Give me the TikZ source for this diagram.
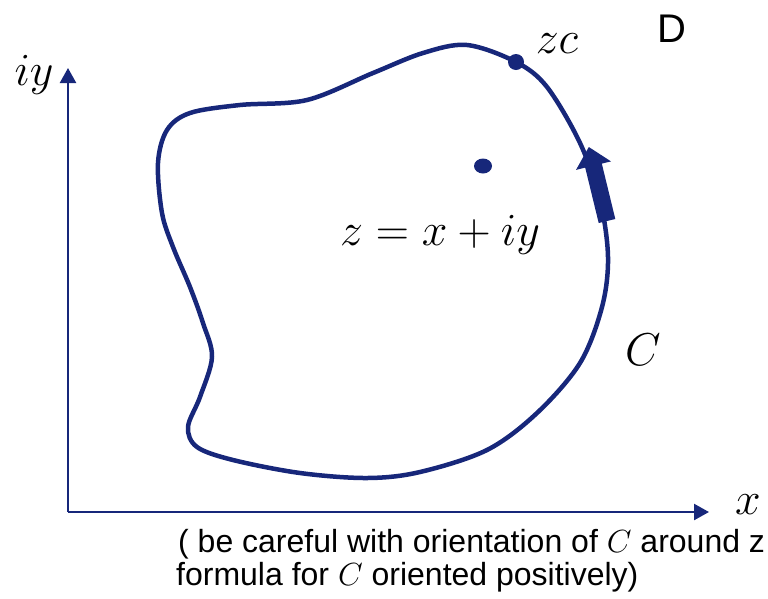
\RequirePackage{fix-cm}
\documentclass[tikz,border=0pt]{standalone}
\usepackage{fontspec}
\setmainfont{Liberation Sans}
\usetikzlibrary{arrows.meta}
\definecolor{navy}{RGB}{23,39,122}
\tikzset{
  axis/.style={draw=navy, line width=2.4pt, -{Triangle[length=15pt,width=16pt]}},
  contour/.style={draw=navy, line width=4.5pt, line join=round},
  mlabel/.style={inner sep=0pt, font=\fontsize{46}{50}\selectfont},
  note/.style={inner sep=0pt, anchor=base west, font=\fontsize{32}{36}\selectfont},
  dotmark/.style={fill=navy}
}
\begin{document}
\begin{tikzpicture}[x=1pt,y=-1pt]
\useasboundingbox (0,0) rectangle (768,598);
% axes
\coordinate (O) at (68,512);
\coordinate (Ytop) at (68,68);
\coordinate (Xend) at (709,512);
\draw[axis] (O) -- (Ytop);
\draw[axis] (O) -- (Xend);
% contour
\draw[contour] plot[smooth cycle, tension=0.55] coordinates {
 (467,45) (516,62) (547,87) (580,143) (600,200) (608,257) (602,307)
 (580,363) (537,413) (487,450) (420,472) (367,478) (300,473) (233,460)
 (197,447) (188,427) (200,397) (212,357) (203,323) (190,287) (173,247)
 (162,213) (158,163) (167,130) (190,113) (240,105) (307,100) (373,73) (423,53)};
% orientation arrow
\fill[navy] (598.7,223.0) -- (585.2,167.6) -- (576.0,169.9) -- (588.8,147)
  -- (611.0,161.4) -- (601.8,163.6) -- (615.3,219.0) -- cycle;
% dots
\fill[dotmark] (516,62) circle[radius=8];
\fill[dotmark] (483,166) ellipse[x radius=9, y radius=7.5];
% labels
\node[mlabel] (liy) at (34,75) {$iy$};
\node[mlabel] (lx) at (748,505) {$x$};
\node[mlabel] (lzc) at (557,44) {$zc$};
\node[mlabel] (lz) at (440,235) {$z=x+iy$};
\node[mlabel] (lC) at (643,350) {$C$};
\node[inner sep=0pt, font=\fontsize{40}{44}\selectfont] (lD) at (672,29) {D};
\node[note] (n1) at (178,552) {( be careful with orientation of $C$ around z};
\node[note] (n2) at (176,585) {formula for $C$ oriented positively)};
\end{tikzpicture}
\end{document}
